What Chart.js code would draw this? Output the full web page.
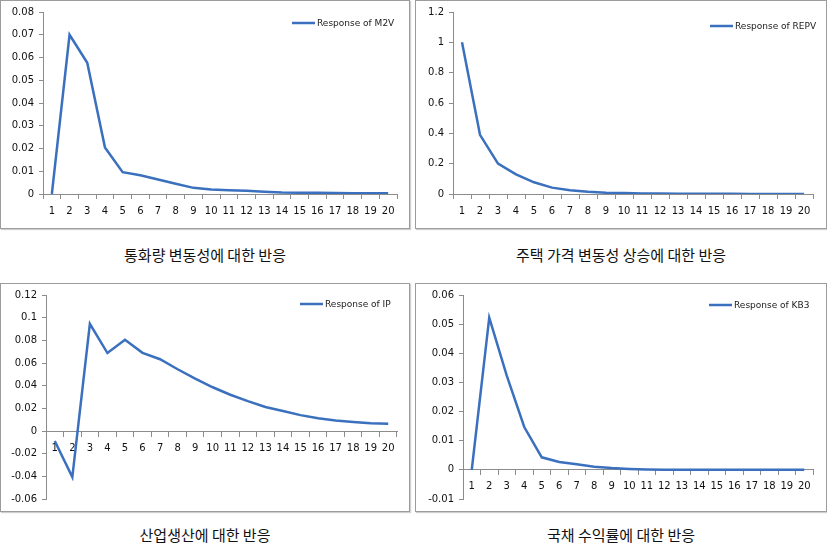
<!DOCTYPE html>
<html>
<head>
<meta charset="utf-8">
<script src="https://cdn.jsdelivr.net/npm/chart.js@4/dist/chart.umd.min.js"></script>
<style>
  body { margin: 0; background: #fff; width: 827px; height: 546px; position: relative; overflow: hidden; }
  .panel { position: absolute; border: 1px solid #9c9c9c; box-shadow: 1px 1px 1px #d0d0d0; background: #fff; }
  .panel canvas { display: block; }
  .caption { position: absolute; width: 410px; text-align: center; font-family: "Noto Sans CJK KR", sans-serif; font-size: 15px; color: #111; line-height: 20px; }
</style>
</head>
<body>
<div class="panel" style="left:0px;top:0px;width:408px;height:227px"><canvas id="chart-m2v" width="408" height="227"></canvas></div>
<div class="panel" style="left:415px;top:0px;width:410px;height:227px"><canvas id="chart-repv" width="410" height="227"></canvas></div>
<div class="panel" style="left:0px;top:283px;width:408px;height:227px"><canvas id="chart-ip" width="408" height="227"></canvas></div>
<div class="panel" style="left:415px;top:283px;width:410px;height:227px"><canvas id="chart-kb3" width="410" height="227"></canvas></div>

<div class="caption" style="left:0px;top:245px">통화량 변동성에 대한 반응</div>
<div class="caption" style="left:416px;top:245px">주택 가격 변동성 상승에 대한 반응</div>
<div class="caption" style="left:0px;top:525px">산업생산에 대한 반응</div>
<div class="caption" style="left:416px;top:525px">국채 수익률에 대한 반응</div>

<script>
const periods = ["1", "2", "3", "4", "5", "6", "7", "8", "9", "10",
  "11", "12", "13", "14", "15", "16", "17", "18", "19", "20"];

const m2vResponse = [0, 0.0700, 0.0577, 0.0205, 0.0096, 0.0082, 0.0064, 0.0045, 0.0027, 0.0020,
  0.0017, 0.0014, 0.0010, 0.0007, 0.0006, 0.0006, 0.0004, 0.0003, 0.0003, 0.0003];
const repvResponse = [1.0, 0.39, 0.20, 0.13, 0.077, 0.042, 0.025, 0.015, 0.009, 0.006,
  0.004, 0.003, 0.002, 0.0015, 0.001, 0.001, 0.0008, 0.0006, 0.0005, 0.0004];
const ipResponse = [-0.0088, -0.0407, 0.0946, 0.0688, 0.0805, 0.0690, 0.0633, 0.0545, 0.0463, 0.0386,
  0.0320, 0.0264, 0.0212, 0.0177, 0.0140, 0.0112, 0.0093, 0.0080, 0.0068, 0.0064];
const kb3Response = [0, 0.0522, 0.0323, 0.0147, 0.0043, 0.0027, 0.0019, 0.0011, 0.0006, 0.0003,
  0.0001, 0, 0, 0, 0, 0, 0, 0, 0, 0];

const lineColor = "#3a70bd";
const axisColor = "#8c8c8c";
const tickFont = { family: "DejaVu Sans", size: 10 };

// Excel style tick text: 0.1, 1, 0 (no trailing zeros, no -0)
function formatTick(value) {
  const v = Math.round(value * 1e6) / 1e6;
  return v === 0 ? "0" : String(v);
}

// small legend drawn inside the plot, top right
const insideLegend = {
  id: "insideLegend",
  afterDraw(chart, args, opts) {
    const ctx = chart.ctx;
    const ds = chart.data.datasets[0];
    ctx.save();
    ctx.strokeStyle = ds.borderColor;
    ctx.lineWidth = 2.5;
    ctx.beginPath();
    ctx.moveTo(opts.x, opts.y);
    ctx.lineTo(opts.x + 23, opts.y);
    ctx.stroke();
    ctx.fillStyle = "#1a1a1a";
    ctx.font = "9px 'DejaVu Sans'";
    ctx.textBaseline = "middle";
    ctx.fillText(ds.label, opts.x + 25, opts.y + 0.5);
    ctx.restore();
  },
};

function makeChart(id, label, values, yMin, yMax, step, area, legendPos, zeroAxis) {
  const canvas = document.getElementById(id);
  return new Chart(canvas, {
    type: "line",
    data: {
      labels: periods,
      datasets: [
        {
          label: label,
          data: values,
          borderColor: lineColor,
          backgroundColor: lineColor,
          borderWidth: 2.5,
          pointRadius: 0,
          tension: 0,
        },
      ],
    },
    options: {
      responsive: false,
      animation: false,
      locale: "en-US",
      layout: {
        padding: { left: 0, top: area.top, right: canvas.width - area.right, bottom: zeroAxis ? canvas.height - area.bottom : 0 },
      },
      plugins: {
        legend: { display: false },
        tooltip: { enabled: false },
        insideLegend: legendPos,
      },
      scales: {
        x: {
          position: zeroAxis ? { y: 0 } : "bottom",
          offset: true,
          grid: { drawOnChartArea: false, color: axisColor, tickLength: 5, offset: true },
          border: { color: axisColor },
          ticks: { font: tickFont, color: "#111", padding: 6, maxRotation: 0, autoSkip: false },
          afterFit(scale) {
            if (!zeroAxis) scale.height = canvas.height - area.bottom;
          },
        },
        y: {
          min: yMin,
          max: yMax,
          grid: { drawOnChartArea: false, color: axisColor, tickLength: 4 },
          border: { color: axisColor },
          ticks: { stepSize: step, font: tickFont, color: "#111", padding: 5, callback: formatTick },
          afterFit(scale) {
            scale.width = area.left;
          },
        },
      },
    },
    plugins: [insideLegend],
  });
}

makeChart("chart-m2v", "Response of M2V", m2vResponse, 0, 0.08, 0.01,
  { left: 42, top: 11, right: 396, bottom: 193 }, { x: 291, y: 22 }, false);
makeChart("chart-repv", "Response of REPV", repvResponse, 0, 1.2, 0.2,
  { left: 37, top: 11, right: 397, bottom: 193 }, { x: 294, y: 25 }, false);
makeChart("chart-ip", "Response of IP", ipResponse, -0.06, 0.12, 0.02,
  { left: 45, top: 10, right: 396, bottom: 215 }, { x: 299, y: 20 }, true);
makeChart("chart-kb3", "Response of KB3", kb3Response, -0.01, 0.06, 0.01,
  { left: 47, top: 10, right: 397, bottom: 215 }, { x: 293, y: 21 }, true);
</script>
</body>
</html>
